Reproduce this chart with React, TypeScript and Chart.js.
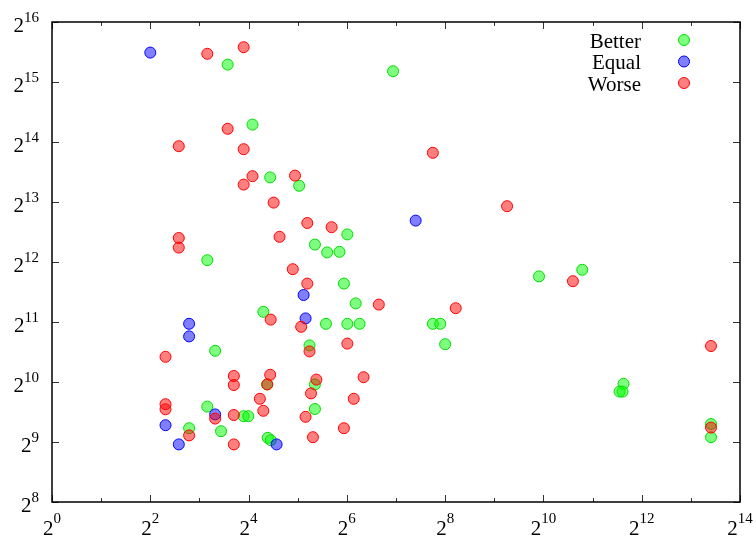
import React, { useEffect, useRef } from "react";
import { Chart, registerables } from "chart.js";

Chart.register(...registerables);

// Series names (legend order)
const seriesNames = ["Better", "Equal", "Worse"];

// Values, given as base-2 exponents (log2 of the value)
const betterLog2X = [3.575, 4.08, 6.94, 3.16, 3.32, 4.3, 2.79, 3.16, 3.44, 3.9, 3.995, 4.44, 5.03, 6.01, 5.35, 5.6, 5.85, 5.94, 6.18, 5.575, 6.01, 6.26, 7.75, 7.9, 5.24, 8.0, 4.38, 5.35, 5.35, 4.39, 4.45, 9.91, 10.79, 11.63, 11.55, 11.61, 13.41, 13.41];
const betterLog2Y = [15.29, 14.29, 15.18, 12.03, 10.52, 11.17, 9.23, 9.59, 9.18, 9.43, 9.43, 13.41, 13.27, 12.46, 12.29, 12.16, 12.17, 11.64, 11.31, 10.97, 10.97, 10.97, 10.97, 10.97, 10.61, 10.63, 9.96, 9.96, 9.55, 9.07, 9.03, 11.76, 11.87, 9.97, 9.84, 9.84, 9.3, 9.08];

const equalLog2X = [2.0, 2.79, 2.79, 2.31, 2.58, 3.32, 7.4, 5.12, 5.16, 4.57];
const equalLog2Y = [15.49, 10.97, 10.76, 9.28, 8.96, 9.46, 12.69, 11.45, 11.06, 8.96];

const worseLog2X = [3.16, 3.9, 2.58, 3.575, 3.9, 4.08, 3.9, 2.58, 2.58, 2.31, 3.7, 3.7, 2.31, 2.31, 2.79, 3.32, 3.7, 3.7, 4.23, 4.3, 7.75, 4.945, 4.51, 5.195, 5.69, 4.63, 4.9, 5.195, 6.65, 8.215, 4.45, 5.07, 5.24, 6.01, 4.44, 4.38, 5.38, 5.27, 6.34, 6.14, 5.16, 5.94, 5.31, 9.26, 10.6, 13.41, 13.41];
const worseLog2Y = [15.47, 15.58, 13.93, 14.22, 13.88, 13.43, 13.29, 12.4, 12.24, 10.42, 10.1, 9.95, 9.63, 9.545, 9.11, 9.39, 9.45, 8.96, 9.72, 9.52, 13.82, 13.44, 12.99, 12.65, 12.58, 12.42, 11.88, 11.64, 11.29, 11.23, 11.04, 10.92, 10.51, 10.64, 10.12, 9.96, 10.04, 9.81, 10.08, 9.72, 9.42, 9.23, 9.08, 12.93, 11.68, 10.6, 9.24];

// Axis ticks (exponents of 2)
const xTickExponents = [0, 1, 2, 3, 4, 5, 6, 7, 8, 9, 10, 11, 12, 13, 14];
const xLabelExponents = [0, 2, 4, 6, 8, 10, 12, 14];
const yTickExponents = [8, 9, 10, 11, 12, 13, 14, 15, 16];
const yLabelExponents = [8, 9, 10, 11, 12, 13, 14, 15, 16];

const FONT = '"Liberation Serif", "Times New Roman", serif';

const COLORS = {
  Better: { fill: "rgba(0,255,0,0.5)", stroke: "rgba(0,220,0,1)" },
  Equal: { fill: "rgba(0,0,255,0.5)", stroke: "rgba(0,0,255,1)" },
  Worse: { fill: "rgba(255,0,0,0.5)", stroke: "rgba(255,0,0,1)" },
} as Record<string, { fill: string; stroke: string }>;

const toPoints = (xs: number[], ys: number[]) =>
  xs.map((x, i) => ({ x: Math.pow(2, x), y: Math.pow(2, ys[i]) }));

function drawPow(
  ctx: CanvasRenderingContext2D,
  exp: string,
  x: number,
  baseY: number,
  expY: number,
  align: "center" | "right"
) {
  ctx.font = `21px ${FONT}`;
  const wb = ctx.measureText("2").width;
  ctx.font = `15px ${FONT}`;
  const we = ctx.measureText(exp).width;
  const total = wb + we;
  const start = align === "center" ? x - total / 2 : x - total;
  ctx.textAlign = "left";
  ctx.textBaseline = "alphabetic";
  ctx.fillStyle = "#000";
  ctx.font = `21px ${FONT}`;
  ctx.fillText("2", start, baseY);
  ctx.font = `15px ${FONT}`;
  ctx.fillText(exp, start + wb, expY);
}

const framePlugin = {
  id: "gnuFrame",
  beforeDatasetsDraw(chart: any) {
    const { ctx, chartArea: a, scales } = chart;
    const xs = scales.x;
    const ys = scales.y;
    ctx.save();
    ctx.strokeStyle = "#333";
    ctx.lineWidth = 1;
    const line = (x1: number, y1: number, x2: number, y2: number) => {
      ctx.beginPath();
      ctx.moveTo(x1, y1);
      ctx.lineTo(x2, y2);
      ctx.stroke();
    };
    xTickExponents.forEach((e) => {
      const px = Math.round(xs.getPixelForValue(Math.pow(2, e))) + 0.5;
      const len = e % 2 === 0 ? 7 : 4;
      line(px, a.bottom, px, a.bottom - len);
      line(px, a.top, px, a.top + len);
    });
    yTickExponents.forEach((e) => {
      const py = Math.round(ys.getPixelForValue(Math.pow(2, e))) + 0.5;
      line(a.left, py, a.left + 7, py);
      line(a.right, py, a.right - 7, py);
    });
    ctx.strokeStyle = "#000";
    ctx.lineWidth = 1.5;
    ctx.strokeRect(a.left, a.top, a.right - a.left, a.bottom - a.top);
    xLabelExponents.forEach((e) => {
      const px = xs.getPixelForValue(Math.pow(2, e));
      drawPow(ctx, String(e), px, a.bottom + 33, a.bottom + 21, "center");
    });
    yLabelExponents.forEach((e) => {
      const py = ys.getPixelForValue(Math.pow(2, e));
      drawPow(ctx, String(e), 39, py + 10, py - 0.5, "right");
    });
    ctx.restore();
  },
  afterDatasetsDraw(chart: any) {
    const { ctx } = chart;
    ctx.save();
    const rows = [40, 61.5, 83];
    seriesNames.forEach((name, i) => {
      const y = rows[i];
      ctx.font = `21px ${FONT}`;
      ctx.textAlign = "right";
      ctx.textBaseline = "alphabetic";
      ctx.fillStyle = "#000";
      ctx.fillText(name, 641, y + 7.5);
      ctx.beginPath();
      ctx.arc(684, y, 5.5, 0, Math.PI * 2);
      ctx.fillStyle = COLORS[name].fill;
      ctx.fill();
      ctx.lineWidth = 1;
      ctx.strokeStyle = COLORS[name].stroke;
      ctx.stroke();
    });
    ctx.restore();
  },
};

export default function App() {
  const ref = useRef<HTMLCanvasElement | null>(null);
  useEffect(() => {
    if (!ref.current) return;
    const mk = (name: string, xs: number[], ys: number[], order: number) => ({
      label: name,
      data: toPoints(xs, ys),
      backgroundColor: COLORS[name].fill,
      borderColor: COLORS[name].stroke,
      borderWidth: 1,
      pointRadius: 5.5,
      pointHoverRadius: 5.5,
      order,
    });
    const chart = new Chart(ref.current, {
      type: "scatter",
      data: {
        datasets: [
          mk("Better", betterLog2X, betterLog2Y, 2),
          mk("Equal", equalLog2X, equalLog2Y, 1),
          mk("Worse", worseLog2X, worseLog2Y, 0),
        ],
      },
      options: {
        responsive: false,
        animation: false,
        devicePixelRatio: 1,
        layout: { padding: { left: 52, right: 16, top: 22, bottom: 38 } },
        plugins: { legend: { display: false }, tooltip: { enabled: false }, title: { display: false } },
        scales: {
          x: { type: "logarithmic", min: 1, max: 16384, display: false },
          y: { type: "logarithmic", min: 256, max: 65536, display: false },
        },
      },
      plugins: [framePlugin],
    } as any);
    return () => chart.destroy();
  }, []);
  return (
    <div style={{ position: "fixed", left: 0, top: 0, width: 756, height: 540, background: "#fff" }}>
      <canvas ref={ref} width={756} height={540} style={{ display: "block" }} />
    </div>
  );
}
